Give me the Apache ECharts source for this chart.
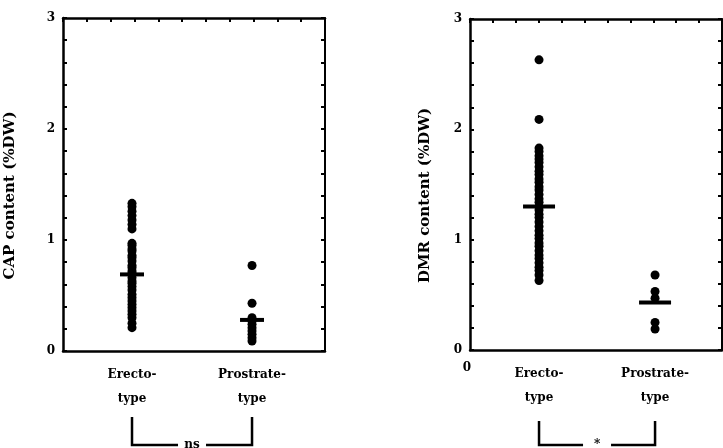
<!DOCTYPE html>
<html>
<head>
<meta charset="utf-8">
<script src="https://cdn.jsdelivr.net/npm/echarts@6/dist/echarts.min.js"></script>
<style>html,body{margin:0;padding:0;background:#fff;}#c{width:723px;height:448px;}</style>
</head>
<body>
<div id="c"></div>
<script>
// ---- data ----
var categories = ['Erecto-\ntype', 'Prostrate-\ntype'];
var yTickLabels = ['0', '1', '2', '3'];
// CAP content (%DW)
var capErecto = [1.33, 1.30, 1.26, 1.22, 1.18, 1.14, 1.10,
  0.97, 0.95, 0.92, 0.90, 0.86, 0.84, 0.81, 0.77, 0.75, 0.72, 0.70, 0.66, 0.63,
  0.61, 0.58, 0.55, 0.51, 0.48, 0.45, 0.42, 0.39, 0.36, 0.33, 0.30, 0.25, 0.21];
var capProstrate = [0.77, 0.43, 0.30, 0.27, 0.24, 0.21, 0.18, 0.15, 0.12, 0.09];
var capMeans = [0.69, 0.28];
// DMR content (%DW)
var dmrErecto = [2.63, 2.09, 1.83, 1.80, 1.76, 1.73, 1.70, 1.66, 1.62, 1.59, 1.55,
  1.52, 1.48, 1.45, 1.41, 1.37, 1.34, 1.30, 1.27, 1.23, 1.20, 1.16, 1.12, 1.08,
  1.04, 1.01, 0.97, 0.94, 0.90, 0.86, 0.83, 0.79, 0.75, 0.72, 0.68, 0.63];
var dmrProstrate = [0.68, 0.53, 0.47, 0.25, 0.19];
var dmrMeans = [1.30, 0.43];
var significance = ['ns', '*'];

var FONT = 'DejaVu Serif';
var INK = '#000';

function pts(x, arr) { return arr.map(function (v) { return [x, v]; }); }

function bottomX(grid, min, max) {
  return {
    type: 'value', gridIndex: grid, position: 'bottom', min: min, max: max,
    axisLine: { show: true, onZero: false, lineStyle: { color: INK, width: 2.5 } },
    axisTick: { show: false },
    splitLine: { show: false },
    axisLabel: {
      customValues: [1, 2], margin: 12, color: INK, fontFamily: FONT, fontWeight: 'bold',
      fontSize: 12, lineHeight: 24,
      formatter: function (v) { return categories[Math.round(v) - 1] || ''; }
    }
  };
}
function topX(grid) {
  return {
    type: 'value', gridIndex: grid, position: 'top', min: 0, max: 11, interval: 1,
    axisLine: { show: true, onZero: false, lineStyle: { color: INK, width: 2.5 } },
    axisTick: { show: true, inside: true, length: 4, lineStyle: { color: INK, width: 2 } },
    axisLabel: { show: false }, splitLine: { show: false }
  };
}
function leftY(grid, name, gap) {
  return {
    type: 'value', gridIndex: grid, position: 'left', min: 0, max: 3, interval: 0.2,
    name: name, nameLocation: 'middle', nameGap: gap,
    nameTextStyle: { color: INK, fontFamily: FONT, fontWeight: 'bold', fontSize: 15, padding: [0, 0, 0, -22] },
    axisLine: { show: true, onZero: false, lineStyle: { color: INK, width: 2.5 } },
    axisTick: { show: true, inside: true, length: 4, lineStyle: { color: INK, width: 2 } },
    splitLine: { show: false },
    axisLabel: {
      color: INK, fontFamily: FONT, fontWeight: 'bold', fontSize: 12, margin: 8,
      formatter: function (v) {
        var r = Math.round(v);
        return Math.abs(v - r) < 1e-6 ? (yTickLabels[r] || '') : '';
      }
    }
  };
}
function rightY(grid) {
  return {
    type: 'value', gridIndex: grid, position: 'right', min: 0, max: 3, interval: 0.2,
    axisLine: { show: true, onZero: false, lineStyle: { color: INK, width: 2 } },
    axisTick: { show: true, inside: true, length: 4, lineStyle: { color: INK, width: 2 } },
    axisLabel: { show: false }, splitLine: { show: false }
  };
}
function dots(xi, yi, data) {
  return { type: 'scatter', xAxisIndex: xi, yAxisIndex: yi, data: data,
    symbol: 'circle', symbolSize: 9, itemStyle: { color: INK, opacity: 1 }, silent: true, z: 3 };
}
function means(xi, yi, data, w) {
  return { type: 'scatter', xAxisIndex: xi, yAxisIndex: yi, data: data,
    symbol: 'rect', symbolSize: [w, 4], itemStyle: { color: INK, opacity: 1 }, silent: true, z: 4 };
}

var chart = echarts.init(document.getElementById('c'), null, { renderer: 'canvas' });
chart.setOption({
  backgroundColor: '#fff',
  animation: false,
  grid: [
    { left: 63, top: 18, width: 262, height: 333 },
    { left: 470, top: 19, width: 252, height: 331 }
  ],
  xAxis: [bottomX(0, 0.425, 2.608), topX(0), bottomX(1, 0.405, 2.577), topX(1)],
  yAxis: [leftY(0, 'CAP content (%DW)', 45), rightY(0), leftY(1, 'DMR content (%DW)', 37), rightY(1)],
  series: [
    dots(0, 0, pts(1, capErecto)),
    dots(0, 0, pts(2, capProstrate)),
    means(0, 0, [[1, capMeans[0]], [2, capMeans[1]]], 24),
    dots(2, 2, pts(1, dmrErecto)),
    dots(2, 2, pts(2, dmrProstrate)),
    means(2, 2, [[1, dmrMeans[0]], [2, dmrMeans[1]]], 32)
  ]
});

// significance brackets below the categories
function bracket(xAxisIndex, label, y1, y2) {
  var a = chart.convertToPixel({ xAxisIndex: xAxisIndex }, 1);
  var b = chart.convertToPixel({ xAxisIndex: xAxisIndex }, 2);
  var m = (a + b) / 2;
  var ls = { stroke: INK, lineWidth: 2.5, fill: null };
  return [
    { type: 'polyline', shape: { points: [[a, y1], [a, y2], [m - 14, y2]] }, style: ls },
    { type: 'polyline', shape: { points: [[m + 14, y2], [b, y2], [b, y1]] }, style: ls },
    { type: 'text', x: m, y: y2, style: { text: label, fill: INK, font: 'bold 12px ' + FONT,
      align: 'center', verticalAlign: 'middle', textAlign: 'center', textVerticalAlign: 'middle' } }
  ];
}
var g = [].concat(bracket(0, significance[0], 417, 445), bracket(2, significance[1], 421, 445));
g.push({ type: 'text', x: 467, y: 368, style: { text: '0', fill: INK, font: 'bold 12px ' + FONT,
  align: 'center', verticalAlign: 'middle', textAlign: 'center', textVerticalAlign: 'middle' } });
chart.setOption({ graphic: g });
</script>
</body>
</html>
